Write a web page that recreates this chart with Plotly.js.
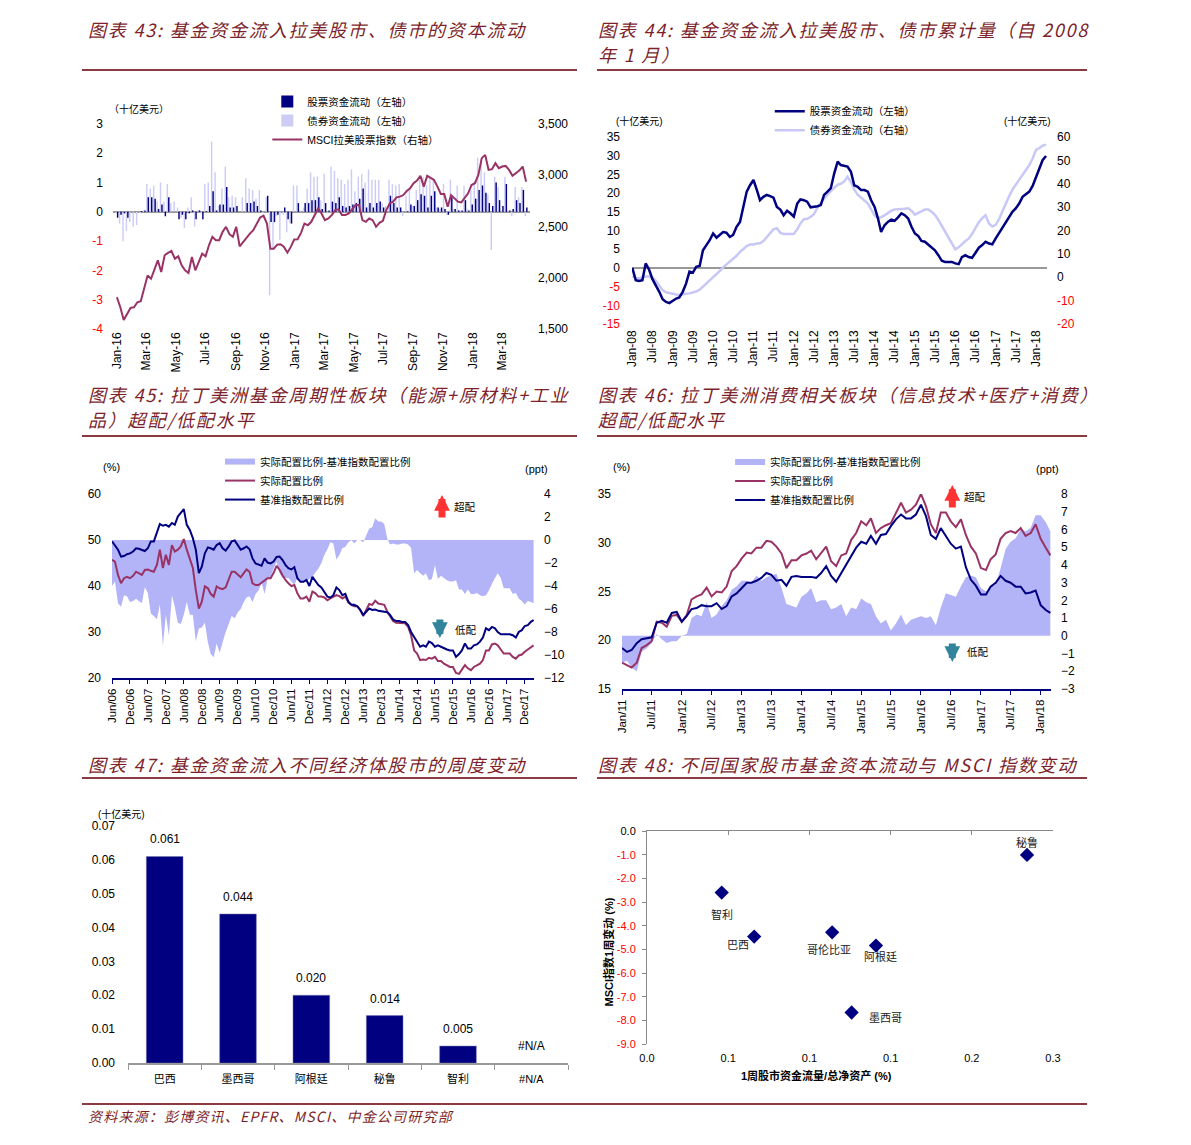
<!DOCTYPE html>
<html>
<head>
<meta charset="utf-8">
<script src="https://cdn.plot.ly/plotly-3.0.1.min.js"></script>
<style>
body { margin: 0; background: #fff; }
#page { position: relative; width: 1191px; height: 1145px; overflow: hidden; }
.title { position: absolute; font-family: "Noto Sans CJK SC", sans-serif; font-style: italic; font-size: 18px;
         letter-spacing: 1.8px; color: #7d1f2c; line-height: 25px; white-space: nowrap; }
.rule { position: absolute; height: 2px; background: #8b3a42; }
.chart { position: absolute; }
</style>
</head>
<body>
<div id="page">
  <div class="title" style="left:88px;top:17px;">图表 43: 基金资金流入拉美股市、债市的资本流动</div>
  <div class="title" style="left:598px;top:17px;">图表 44: 基金资金流入拉美股市、债市累计量（自 2008<br>年 1 月）</div>
  <div class="rule" style="left:82px;top:69px;width:495px;"></div>
  <div class="rule" style="left:597px;top:69px;width:490px;"></div>

  <div class="title" style="left:88px;top:382px;">图表 45: 拉丁美洲基金周期性板块（能源+原材料+工业<br>品）超配/低配水平</div>
  <div class="title" style="left:598px;top:382px;">图表 46: 拉丁美洲消费相关板块（信息技术+医疗+消费）<br>超配/低配水平</div>
  <div class="rule" style="left:82px;top:435px;width:495px;"></div>
  <div class="rule" style="left:597px;top:435px;width:490px;"></div>

  <div class="title" style="left:88px;top:752px;">图表 47: 基金资金流入不同经济体股市的周度变动</div>
  <div class="title" style="left:598px;top:752px;">图表 48: 不同国家股市基金资本流动与 MSCI 指数变动</div>
  <div class="rule" style="left:82px;top:777px;width:495px;"></div>
  <div class="rule" style="left:597px;top:777px;width:490px;"></div>

  <div class="chart" id="c43" style="left:82px;top:90px;"></div>
  <div class="chart" id="c44" style="left:597px;top:90px;"></div>
  <div class="chart" id="c45" style="left:82px;top:450px;"></div>
  <div class="chart" id="c46" style="left:597px;top:450px;"></div>
  <div class="chart" id="c47" style="left:82px;top:800px;"></div>
  <div class="chart" id="c48" style="left:597px;top:810px;"></div>

  <div class="rule" style="left:82px;top:1103px;width:1005px;"></div>
  <div class="title" style="left:88px;top:1104px;font-size:14px;letter-spacing:1.2px;">资料来源：彭博资讯、EPFR、MSCI、中金公司研究部</div>
</div>

<script>
// ---- Chart 43: weekly flows (bn USD) from first week of 2016, MSCI LatAm index
const equity43 = [
  -0.2,-0.1,-0.05,-0.2,0,0,0,0.03,0.05,0.5,
  0.5,0.45,0.1,0.25,-0.15,0.5,0,0,-0.25,-0.1,
  -0.25,-0.05,0.05,-0.25,0.05,-0.25,0.02,0.2,0.7,0.05,
  0.25,0.25,0.85,0.15,0.15,0.2,0,0,0.3,0.3,
  0.35,0.2,0.05,0,0.55,-0.35,-0.35,-0.1,0,0.15,
  -0.25,-0.4,0,0.3,0,0.3,0.3,0.4,0.4,0.5,
  0.1,0.3,0.05,0.35,0.3,0.5,0.2,0.15,0.2,0.25,
  0.3,0.45,0.8,0.15,0.3,0.15,0.3,0.35,0.15,0,
  0.55,0.3,0.15,0.15,0,0.02,0.25,0.2,0.4,0.6,
  0.55,0.15,0.55,0.7,0.15,0.15,0.1,-0.1,0.5,0.1,
  0.05,0.05,0.4,0.05,0.25,0.45,0.75,0.9,0.65,0.3,
  0.2,1.0,0.4,0.2,0.95,0.05,0.1,0.4,0.3,0.75,
  0.15
];
const bond43 = [
  -0.05,-0.4,-1.0,-0.65,-0.35,-0.5,-0.45,-0.05,0.05,0.95,
  0.8,0.9,0.35,1.0,0.35,0.95,0.3,0.35,0.15,-0.2,
  -0.55,0.15,0.5,-0.5,0.05,-0.05,0.95,1.0,2.4,1.35,
  0.2,0.8,1.55,0.5,0.55,0.5,0,0.5,1.15,0.8,
  0.75,0.45,0.75,-0.05,0.5,-2.85,-1.3,-0.15,-0.95,-0.1,
  -0.7,-0.4,0.9,0.9,0.05,0.15,0.8,1.35,1.2,1.2,
  0.4,1.3,-0.05,1.55,1.4,1.15,1.1,0.95,1.1,1.45,
  0.7,1.2,1.3,1.0,1.45,1.1,1.1,1.1,0.3,0.2,
  1.1,0.95,0.9,0.95,-0.15,0.55,0.8,0.2,0.75,1.1,
  1.2,0.9,1.2,1.15,0.15,0.1,0.95,-0.1,1.1,0.1,
  0.9,0.05,0.9,0.1,0.75,1.05,1.85,1.8,1.35,0.6,
  -1.3,1.2,0.85,0.05,1.2,0.05,-0.15,0.85,0.5,0.85,
  -0.15
];
const msci43 = [
  1810,1712,1588,1647,1706,1712,1761,1771,1908,2023,
  1990,2088,2170,2056,2219,2242,2261,2186,2209,2121,
  2072,2046,2203,2072,2154,2235,2209,2317,2399,2366,
  2366,2448,2497,2425,2399,2497,2307,2350,2399,2431,
  2464,2529,2588,2605,2529,2284,2284,2323,2327,2301,
  2245,2301,2373,2376,2438,2529,2513,2546,2611,2676,
  2627,2562,2578,2611,2660,2667,2611,2611,2627,2667,
  2709,2709,2562,2546,2578,2562,2497,2536,2556,2660,
  2725,2742,2784,2791,2807,2846,2873,2922,2948,2994,
  2889,2994,2971,2954,2889,2817,2817,2693,2807,2775,
  2742,2735,2775,2824,2905,2922,3003,3167,3199,3052,
  3059,3118,3069,3085,3091,3052,2994,3020,3046,3085,
  2938
];

// ---- Chart 44: cumulative flows since Jan 2008, monthly readings (bn USD)
const equity44 = [
  0,-3.3,-3.5,-3.3,1.2,-0.5,-3.0,-4.6,-6.4,-8.4,
  -9.1,-9.4,-8.7,-8.2,-7.9,-6.4,-4.2,-1.0,-1.3,0.3,
  0.5,4.7,6.1,7.4,9.2,8.1,8.8,9.6,9.4,8.3,
  8.8,11,12.3,16.3,20.4,22.1,23.5,20.8,18.1,19,
  19.5,19.2,18.8,16.3,15.6,14.1,15.3,14.6,13.7,17.2,
  18.3,18.1,17.7,16.2,16.3,16.5,16.8,19.5,20.4,21.3,
  25.3,28.4,27.5,27.2,27.1,25.7,22.1,21.7,20.8,20.8,
  20.4,18.1,16.3,13.2,9.6,11.4,12.3,12.9,12.6,13.5,
  14.6,14.1,13.2,11,9.2,8.5,7.2,7,6.3,5.6,
  4.7,3.4,1.9,1.6,1.5,1.6,1.2,1.0,2.9,3.4,
  2.9,2.7,4,5.4,6.1,7,6.5,6.3,7.9,9.4,
  10.5,12.3,13.7,15,15.9,17.2,19,19.6,20.4,21.9,
  24.4,26.6,28.8,29.9
];
const bond44 = [
  0.5,-0.4,-0.4,0,0.3,0.3,-0.2,-1.5,-3.5,-5.5,
  -6.4,-6.8,-7.1,-7.4,-7.6,-7.5,-7.1,-6.9,-6.6,-6.1,
  -5.3,-4,-2.6,-1.4,-0.3,1.2,2.6,4.2,5.4,6.4,
  7.8,9.2,10.8,12.1,13.3,14,14,14.4,14.5,15.5,
  17,18.6,20.5,21,19,18.5,18.5,18.2,18.5,20.5,
  23,24.8,25,25.8,27,29.8,32,33.6,35.3,37,
  38.3,39.6,40,41,43,40.6,37.5,35.3,34,33,
  31.5,29,26.5,25.3,25.7,26.5,27.5,28.5,29,29,
  29,29.3,29.5,28.5,26.8,27.4,28.2,29,29,28,
  26.7,24.5,22,19.3,17,14.3,12,12.8,14.3,15.5,
  16.5,18.5,21,23.5,25.3,26.5,23,21.7,22.4,25,
  28,31.5,34.5,37.5,39.6,41.6,43.7,45.8,48,50.8,
  54.5,55.3,56.3,56.7
];

// ---- Chart 45: cyclical sectors, monthly from Jun 2006 (%)
const actual45 = [
  45.7,45.3,42.4,40.6,41.7,42.0,41.7,42.2,43.1,42.8,
  42.4,43.5,43.6,43.3,43.1,44.6,47.9,43.9,46.8,44.6,
  48.9,47.5,47.9,48.6,50.2,47.9,45.7,43.9,39.1,35.1,
  36.6,39.9,39.5,38.3,37.7,39.9,39.5,39.3,39.7,41.3,
  43.1,43.1,42.6,41.9,42.8,43.6,43.1,40.6,40.2,40.2,
  40.7,41.3,41.7,41.7,42.8,44.4,43.5,42.4,41.3,40.6,
  40.0,40.2,38.4,37.3,37.3,37.7,36.6,38.8,38.4,37.7,
  37.7,37.5,36.9,37.3,37.7,38.0,37.8,37.3,37.7,36.4,
  35.9,35.6,35.6,34.8,33.5,34.8,36.1,35.9,36.8,36.2,
  36.1,35.9,34.4,33.3,32.4,32.0,32.0,31.9,31.9,31.1,
  29.3,26.0,25.3,23.9,24.0,23.9,24.4,24.2,24.6,23.7,
  23.7,23.1,22.7,22.4,22.4,21.1,20.9,21.7,22.8,22.1,
  21.7,22.4,22.7,23.1,23.9,26.0,26.0,27.3,27.5,27.1,
  26.2,25.3,25.3,25.3,24.6,24.2,24.9,25.1,25.7,26.2,
  26.8,27.1
];
const bench45 = [
  49.7,48.9,47.9,46.4,46.5,46.9,47.1,47.5,48.2,48.1,
  47.9,47.6,48.2,49.7,49.7,51.5,53.5,53.1,53.3,52.9,
  53.7,53.3,55.1,55.9,56.7,53.3,52.2,50.4,47.9,42.8,
  44.2,47.1,48.4,48.2,47.9,48.9,49.3,48.2,47.7,48.6,
  49.7,49.9,48.9,47.9,48.2,48.6,48.0,46.0,44.9,44.6,
  44.4,46.0,45.1,44.9,45.3,46.3,46.4,45.7,44.6,43.9,
  43.6,44.1,41.7,40.9,40.9,41.3,40.0,42.0,41.2,40.2,
  39.7,38.8,37.7,37.5,38.0,39.7,39.1,38.0,38.3,36.6,
  35.9,35.9,35.6,34.8,33.7,34.4,35.1,34.8,34.9,34.6,
  34.5,34.5,34.3,33.7,32.7,32.4,32.4,32.2,32.2,31.5,
  30.0,28.9,27.9,26.8,27.1,26.8,27.9,27.6,26.8,27.1,
  26.8,26.4,26.2,26.0,26.0,24.6,25.2,26.0,27.5,26.4,
  26.4,27.1,27.3,27.9,28.8,30.8,30.4,31.1,30.8,30.0,
  29.5,29.5,29.5,29.5,29.3,28.8,30.0,30.4,31.3,31.5,
  32.2,32.6
];

// ---- Chart 46: consumer-related sectors, monthly from Jan 2011 (%)
const actual46 = [
  17.7,17.4,17.2,17.7,19.2,19.5,19.9,21.9,21.8,21.4,
  22.5,22.6,21.9,22.6,24.2,24.5,24.7,25.4,24.5,25.0,
  24.9,25.5,27.1,27.6,28.4,29.0,28.9,29.5,29.5,30.2,
  30.1,29.6,28.9,27.4,28.2,28.2,28.7,28.9,29.2,28.3,
  28.9,29.6,28.1,27.6,28.7,28.9,30.3,31.0,32.2,31.8,
  32.5,31.0,31.5,31.8,32.0,33.1,34.1,33.1,33.4,33.9,
  35.0,33.7,31.9,31.0,33.1,33.1,32.2,31.6,32.4,30.8,
  29.6,28.9,27.4,27.2,28.3,28.8,30.4,31.0,31.2,31.0,
  31.5,30.7,31.0,31.9,30.4,29.5,28.7
];
const bench46 = [
  19.2,18.8,19.0,19.7,20.1,20.2,20.3,21.8,22.0,21.8,
  22.8,22.9,21.9,22.5,23.2,23.3,23.6,23.5,23.5,23.8,
  23.2,23.5,24.5,24.8,25.3,25.9,25.9,26.1,26.4,26.9,
  26.7,26.1,26.2,25.6,26.5,26.6,26.5,26.5,26.5,26.4,
  26.9,27.6,26.6,26.0,26.9,27.8,28.7,29.5,30.1,29.9,
  30.7,29.9,30.8,30.9,31.7,32.4,32.9,32.5,32.5,32.9,
  33.9,32.7,30.8,30.4,31.5,30.7,29.9,29.4,29.6,27.5,
  26.2,25.6,24.7,24.7,25.5,25.9,26.6,26.1,25.9,25.5,
  25.5,24.8,24.9,25.1,23.6,23.1,22.8
];

// ---- Chart 47: weekly flows by economy (bn USD)
const cats47 = ['巴西', '墨西哥', '阿根廷', '秘鲁', '智利', '#N/A'];
const vals47 = [0.061, 0.044, 0.020, 0.014, 0.005, null];

// ---- Chart 48: 1-week flow / AUM (%) vs MSCI 1-week change (%)
const names48 = ['智利', '巴西', '哥伦比亚', '阿根廷', '墨西哥', '秘鲁'];
const flow48 = [0.046, 0.066, 0.114, 0.141, 0.126, 0.234];
const msci48 = [-2.6, -4.46, -4.28, -4.84, -7.67, -1.01];

const FONT = 'Arial, "Liberation Sans", "Noto Sans CJK SC", sans-serif';
const NAVY = '#000080', MAROON = '#993366', LIGHT = '#CCCCF7', LAV = '#B3B3F7', RED = '#FF0000';
const cfg = { displayModeBar: false, staticPlot: true };

function weekly(start, n) {
    const d0 = new Date(start + 'T00:00:00Z');
    return Array.from({ length: n }, (_, i) => new Date(d0.getTime() + i * 7 * 864e5).toISOString().slice(0, 10));
}
function monthly(year, month, n) {
    return Array.from({ length: n }, (_, i) => {
        const k = month - 1 + i;
        return `${year + Math.floor(k / 12)}-${String(k % 12 + 1).padStart(2, '0')}-01`;
    });
}
function range(a, b, step) {
    const out = [];
    for (let v = a; v <= b + 1e-9; v += step) out.push(+v.toFixed(4));
    return out;
}
function tickText(vals, fmt, redNeg) {
    return vals.map(v => (redNeg && v < 0) ? `<span style="color:${RED}">${fmt(v)}</span>` : fmt(v));
}
function note(text, x, y, extra) {
    return Object.assign({ text, x, y, xref: 'paper', yref: 'paper', xanchor: 'center', yanchor: 'middle',
                           showarrow: false, font: { size: 10 } }, extra || {});
}
const legendBase = { xanchor: 'left', yanchor: 'top', bgcolor: 'rgba(0,0,0,0)', font: { size: 10.5 }, tracegroupgap: 0 };

// ---------- 43
(function () {
    const x = weekly('2016-01-01', msci43.length);
    const left = range(-4, 3, 1);
    Plotly.newPlot('c43', [
        { x, y: bond43, type: 'bar', name: '债券资金流动（左轴）', marker: { color: LIGHT }, legendrank: 2 },
        { x, y: equity43, type: 'bar', name: '股票资金流动（左轴）', marker: { color: NAVY }, legendrank: 1 },
        { x, y: msci43, type: 'scatter', mode: 'lines', name: 'MSCI拉美股票指数（右轴）', yaxis: 'y2',
          line: { color: MAROON, width: 2 }, legendrank: 3 },
    ], {
        width: 500, height: 290, margin: { l: 31, r: 52, t: 34, b: 51, autoexpand: false },
        font: { family: FONT, size: 12, color: '#000' },
        barmode: 'group', bargap: 0.15,
        xaxis: { type: 'date', range: ['2015-12-24', '2018-04-28'], tick0: '2016-01-01', dtick: 'M2',
                 tickformat: '%b-%y', tickangle: -90, showgrid: false, showline: false, ticks: '' },
        yaxis: { range: [-4, 3], tickvals: left, ticktext: tickText(left, v => String(v), true),
                 ticklabelstandoff: 9,
                 showgrid: false, zeroline: true, zerolinecolor: '#999', zerolinewidth: 1.5 },
        yaxis2: { overlaying: 'y', side: 'right', range: [1500, 3500], tickvals: range(1500, 3500, 500),
                  tickformat: ',d', ticklabelstandoff: 7, showgrid: false, zeroline: false },
        legend: Object.assign({ x: 0.37, y: 1.18 }, legendBase),
        annotations: [note('（十亿美元）', 0.062, 1.073)],
    }, cfg);
})();

// ---------- 44
(function () {
    const x = monthly(2008, 1, equity44.length);
    const left = range(-15, 35, 5), right = range(-20, 60, 10);
    Plotly.newPlot('c44', [
        { x, y: bond44, type: 'scatter', mode: 'lines', name: '债券资金流动（右轴）',
          line: { color: '#C8C8F7', width: 2.5 }, legendrank: 2 },
        { x, y: equity44, type: 'scatter', mode: 'lines', name: '股票资金流动（左轴）', yaxis: 'y2',
          line: { color: NAVY, width: 2.5 }, legendrank: 1 },
    ], {
        width: 490, height: 290, margin: { l: 35, r: 40, t: 47, b: 56, autoexpand: false },
        font: { family: FONT, size: 12, color: '#000' },
        xaxis: { type: 'date', range: ['2007-12-29', '2018-04-10'], tick0: '2008-01-01', dtick: 'M6',
                 tickformat: '%b-%y', tickangle: -90, showgrid: false, showline: false, ticks: '',
                 ticklabelstandoff: 3 },
        yaxis: { side: 'right', range: [-20, 60], tickvals: right, ticktext: tickText(right, v => String(v), true),
                 ticklabelstandoff: 9, showgrid: false, zeroline: false },
        yaxis2: { overlaying: 'y', side: 'left', range: [-15, 35], tickvals: left,
                  ticktext: tickText(left, v => String(v), true), ticklabelstandoff: 11,
                  showgrid: false, zeroline: true, zerolinecolor: '#999', zerolinewidth: 1.5 },
        legend: Object.assign({ x: 0.332, y: 1.215 }, legendBase),
        annotations: [note('(十亿美元)', 0.019, 1.086), note('(十亿美元)', 0.952, 1.086)],
    }, cfg);
})();

// ---------- 45 & 46 share the same design
function allocationChart(id, x, actual, bench, opt) {
    const diff = actual.map((v, i) => +(v - bench[i]).toFixed(2));
    const pct = range(opt.pct[0], opt.pct[1], opt.pct[2]);
    const ppt = range(opt.ppt[0], opt.ppt[1], opt.ppt[2]);
    const arrow = (x, y, ay, color) => ({ xref: 'paper', yref: 'paper', x, y, ax: 0, ay, text: '',
        showarrow: true, arrowhead: 2, arrowsize: 0.45, arrowwidth: 7, arrowcolor: color });
    Plotly.newPlot(id, [
        { x, y: diff, type: 'scatter', mode: 'none', fill: 'tozeroy', fillcolor: LAV,
          name: '实际配置比例-基准指数配置比例', legendrank: 1 },
        { x, y: actual, type: 'scatter', mode: 'lines', yaxis: 'y2', name: '实际配置比例',
          line: { color: MAROON, width: 2 }, legendrank: 2 },
        { x, y: bench, type: 'scatter', mode: 'lines', yaxis: 'y2', name: '基准指数配置比例',
          line: { color: NAVY, width: 2 }, legendrank: 3 },
    ], {
        width: opt.w, height: 290, margin: Object.assign({ autoexpand: false }, opt.margin),
        font: { family: FONT, size: 12, color: '#000' },
        xaxis: { type: 'date', range: opt.xrange, tick0: x[0], dtick: 'M6', tickformat: '%b/%y', tickangle: -90,
                 showgrid: false, showline: true, linecolor: NAVY, linewidth: 2,
                 ticks: 'outside', tickcolor: NAVY, ticklen: 4, tickfont: { size: 11.5 } },
        yaxis: { side: 'right', range: [opt.ppt[0], opt.ppt[1]], tickvals: ppt, ticklabelstandoff: 9,
                 showgrid: false, zeroline: false },
        yaxis2: { overlaying: 'y', side: 'left', range: [opt.pct[0], opt.pct[1]], tickvals: pct,
                  ticklabelstandoff: 10, showgrid: false, zeroline: false },
        legend: Object.assign({ x: opt.legend[0], y: opt.legend[1] }, legendBase),
        annotations: [
            note('(%)', -0.002, opt.units[0], { font: { size: 11 } }),
            note('(ppt)', opt.units[1], opt.units[2], { font: { size: 11 } }),
            arrow(opt.up[0], opt.up[1], 24, '#FF3333'),
            note('超配', opt.upText[0], opt.upText[1], { font: { size: 10.5 } }),
            arrow(opt.down[0], opt.down[1], -20, '#31849B'),
            note('低配', opt.downText[0], opt.downText[1], { font: { size: 10.5 } }),
        ],
    }, cfg);
}

allocationChart('c45', monthly(2006, 6, actual45.length), actual45, bench45, {
    w: 500, margin: { l: 30, r: 48, t: 44, b: 62 }, xrange: ['2006-06-01', '2018-03-05'],
    pct: [20, 60, 10], ppt: [-12, 4, 2], legend: [0.256, 1.255], units: [1.147, 1.005, 1.136],
    up: [0.782, 0.995], upText: [0.836, 0.929], down: [0.777, 0.217], downText: [0.839, 0.261],
});
allocationChart('c46', monthly(2011, 1, actual46.length), actual46, bench46, {
    w: 490, margin: { l: 25, r: 36, t: 44, b: 51 }, xrange: ['2011-01-01', '2018-03-05'],
    pct: [15, 35, 5], ppt: [-3, 8, 1], legend: [0.252, 1.238], units: [1.138, 0.993, 1.128],
    up: [0.770, 1.046], upText: [0.824, 0.985], down: [0.770, 0.138], downText: [0.829, 0.19],
});

// ---------- 47
(function () {
    const labels = cats47.map((c, i) => ({
        x: c, y: vals47[i] == null ? 0 : vals47[i], text: vals47[i] == null ? '#N/A' : vals47[i].toFixed(3),
        yanchor: 'bottom', yshift: 8, showarrow: false, font: { size: 12 },
    }));
    labels.push(note('(十亿美元)', -0.014, 1.052));
    Plotly.newPlot('c47', [
        { x: cats47, y: vals47, type: 'bar', width: 0.5,
          marker: { color: NAVY, line: { color: '#7777aa', width: 0.5 } } },
    ], {
        width: 500, height: 300, margin: { l: 46, r: 14, t: 26, b: 37, autoexpand: false },
        font: { family: FONT, size: 12, color: '#000' }, showlegend: false,
        xaxis: { type: 'category', showline: true, linecolor: '#999', linewidth: 1.5, ticks: 'outside',
                 tickson: 'boundaries', ticklen: 5, tickcolor: '#999', tickfont: { size: 11 },
                 ticklabelstandoff: 5 },
        yaxis: { range: [0, 0.07], tickvals: range(0, 0.07, 0.01), tickformat: '.2f', ticklabelstandoff: 12,
                 showgrid: false, zeroline: false, showline: false },
        annotations: labels,
    }, cfg);
})();

// ---------- 48
(function () {
    const yt = range(-9, 0, 1);
    const shifts = { '智利': [0, -22], '巴西': [-16, -8], '哥伦比亚': [-3, -17], '阿根廷': [5, -11],
                     '墨西哥': [34, -5], '秘鲁': [0, 12] };
    const labels = names48.map((n, i) => ({
        x: flow48[i], y: msci48[i], text: n, showarrow: false, font: { size: 11, color: '#222' },
        xshift: shifts[n][0], yshift: shifts[n][1],
    }));
    labels.push(note('<b>1周股市资金流量/总净资产 (%)</b>', 0.418, -0.149, { font: { size: 11 } }));
    labels.push(note('<b>MSCI指数1周变动 (%)</b>', -0.094, 0.434, { font: { size: 11 }, textangle: -90 }));
    Plotly.newPlot('c48', [
        { x: flow48, y: msci48, type: 'scatter', mode: 'markers',
          marker: { symbol: 'diamond', size: 11, color: NAVY } },
        { x: flow48, y: msci48, xaxis: 'x2', type: 'scatter', mode: 'markers',
          marker: { opacity: 0 }, hoverinfo: 'skip' },
    ], {
        width: 490, height: 290, margin: { l: 50, r: 34, t: 21, b: 56, autoexpand: false },
        font: { family: FONT, size: 11, color: '#000' }, showlegend: false,
        xaxis: { range: [0, 0.25], dtick: 0.05, tickformat: '.1f', showgrid: false, zeroline: false,
                 showline: false, ticks: '', ticklabelstandoff: 6 },
        xaxis2: { overlaying: 'x', side: 'top', range: [0, 0.25], dtick: 0.05, showticklabels: false,
                  showline: true, linecolor: '#888', ticks: 'inside', ticklen: 4, tickcolor: '#888',
                  showgrid: false, zeroline: false },
        yaxis: { range: [-9, 0], tickvals: yt, ticktext: tickText(yt, v => v.toFixed(1), true),
                 ticklabelstandoff: 4, showgrid: false, zeroline: false, showline: true, linecolor: '#888',
                 ticks: 'outside', ticklen: 4, tickcolor: '#888' },
        annotations: labels,
    }, cfg);
})();
</script>
</body>
</html>
